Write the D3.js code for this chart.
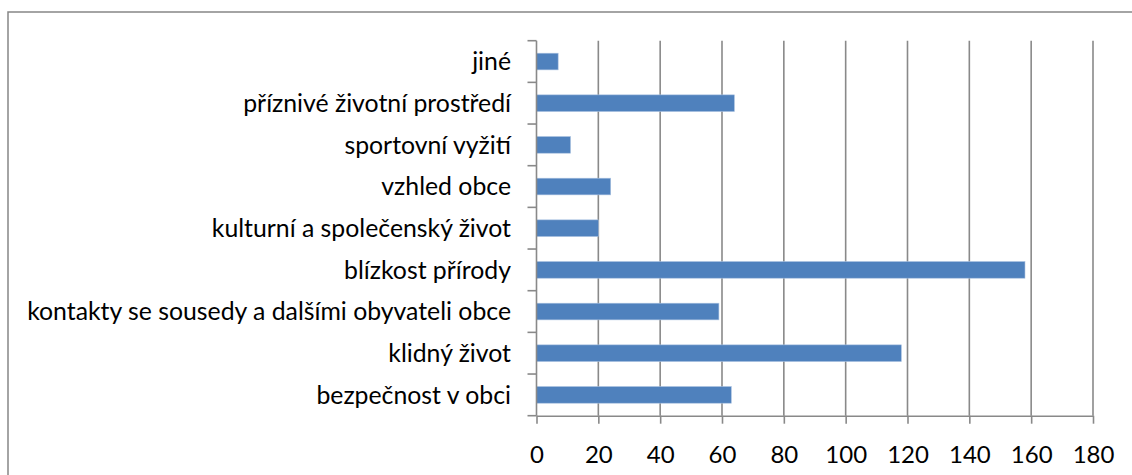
<!DOCTYPE html>
<html>
<head>
<meta charset="utf-8">
<script src="https://cdn.jsdelivr.net/npm/d3@7"></script>
<style>
  html, body { margin: 0; padding: 0; background: #fff; }
  svg { display: block; }
  text { font-family: Lato, "Noto Sans", sans-serif; fill: #000; }
</style>
</head>
<body>
<svg id="chart"></svg>
<script>
// categories listed bottom-to-top as in the source sheet
const categories = [
  "bezpečnost v obci",
  "klidný život",
  "kontakty se sousedy a dalšími obyvateli obce",
  "blízkost přírody",
  "kulturní a společenský život",
  "vzhled obce",
  "sportovní vyžití",
  "příznivé životní prostředí",
  "jiné"
];
const values = [63, 118, 59, 158, 20, 24, 11, 64, 7];
const xTicks = [0, 20, 40, 60, 80, 100, 120, 140, 160, 180];

const W = 1132, H = 475;
const margin = { top: 40.7, right: 39, bottom: 59.3, left: 536.5 };
const innerW = W - margin.left - margin.right;
const innerH = H - margin.top - margin.bottom;

const svg = d3.select("#chart").attr("width", W).attr("height", H);

// outer chart frame (runs off the right and bottom edge)
svg.append("rect")
  .attr("x", 8).attr("y", 12)
  .attr("width", W).attr("height", H)
  .attr("fill", "none")
  .attr("stroke", "#868686")
  .attr("stroke-width", 1.5);

const g = svg.append("g")
  .attr("transform", `translate(${margin.left},${margin.top})`);

const x = d3.scaleLinear().domain([0, 180]).range([0, innerW]);
const y = d3.scaleBand()
  .domain(categories.slice().reverse())
  .range([0, innerH])
  .paddingInner(0.6)
  .paddingOuter(0.3);

const grey = "#898989";

// vertical gridlines
g.append("g")
  .selectAll("line")
  .data(xTicks.slice(1))
  .join("line")
  .attr("x1", d => x(d)).attr("x2", d => x(d))
  .attr("y1", 0).attr("y2", innerH)
  .attr("stroke", grey)
  .attr("stroke-width", 1.6);

// bars
g.append("g")
  .selectAll("rect")
  .data(categories.map((c, i) => ({ c, v: values[i] })))
  .join("rect")
  .attr("x", x(0))
  .attr("y", d => y(d.c))
  .attr("width", d => x(d.v) - x(0))
  .attr("height", y.bandwidth())
  .attr("fill", "#4f81bd")
  .attr("stroke", "#a9c1e0")
  .attr("stroke-width", 0.6);

// x axis
const xAxis = g.append("g")
  .attr("transform", `translate(0,${innerH})`)
  .call(d3.axisBottom(x).tickValues(xTicks).tickSize(8).tickSizeOuter(0).tickPadding(22));
xAxis.select(".domain").attr("stroke", grey).attr("stroke-width", 1.6);
xAxis.selectAll(".tick line").attr("stroke", grey).attr("stroke-width", 1.6);
xAxis.selectAll(".tick text")
  .attr("font-size", 24)
  .attr("font-family", "Lato, 'Noto Sans', sans-serif")
  .attr("fill", "#000");

// y axis: line plus ticks at category boundaries
g.append("line")
  .attr("x1", 0).attr("x2", 0)
  .attr("y1", 0).attr("y2", innerH)
  .attr("stroke", grey).attr("stroke-width", 1.6);

const step = y.step();
g.append("g")
  .selectAll("line")
  .data(d3.range(categories.length + 1))
  .join("line")
  .attr("x1", -9).attr("x2", 0)
  .attr("y1", i => i * step).attr("y2", i => i * step)
  .attr("stroke", grey).attr("stroke-width", 1.6);

// category labels
g.append("g")
  .selectAll("text")
  .data(categories)
  .join("text")
  .attr("x", -25.5)
  .attr("y", d => y(d) + y.bandwidth() / 2)
  .attr("dy", "0.35em")
  .attr("text-anchor", "end")
  .attr("font-size", 24.8)
  .text(d => d);
</script>
</body>
</html>
